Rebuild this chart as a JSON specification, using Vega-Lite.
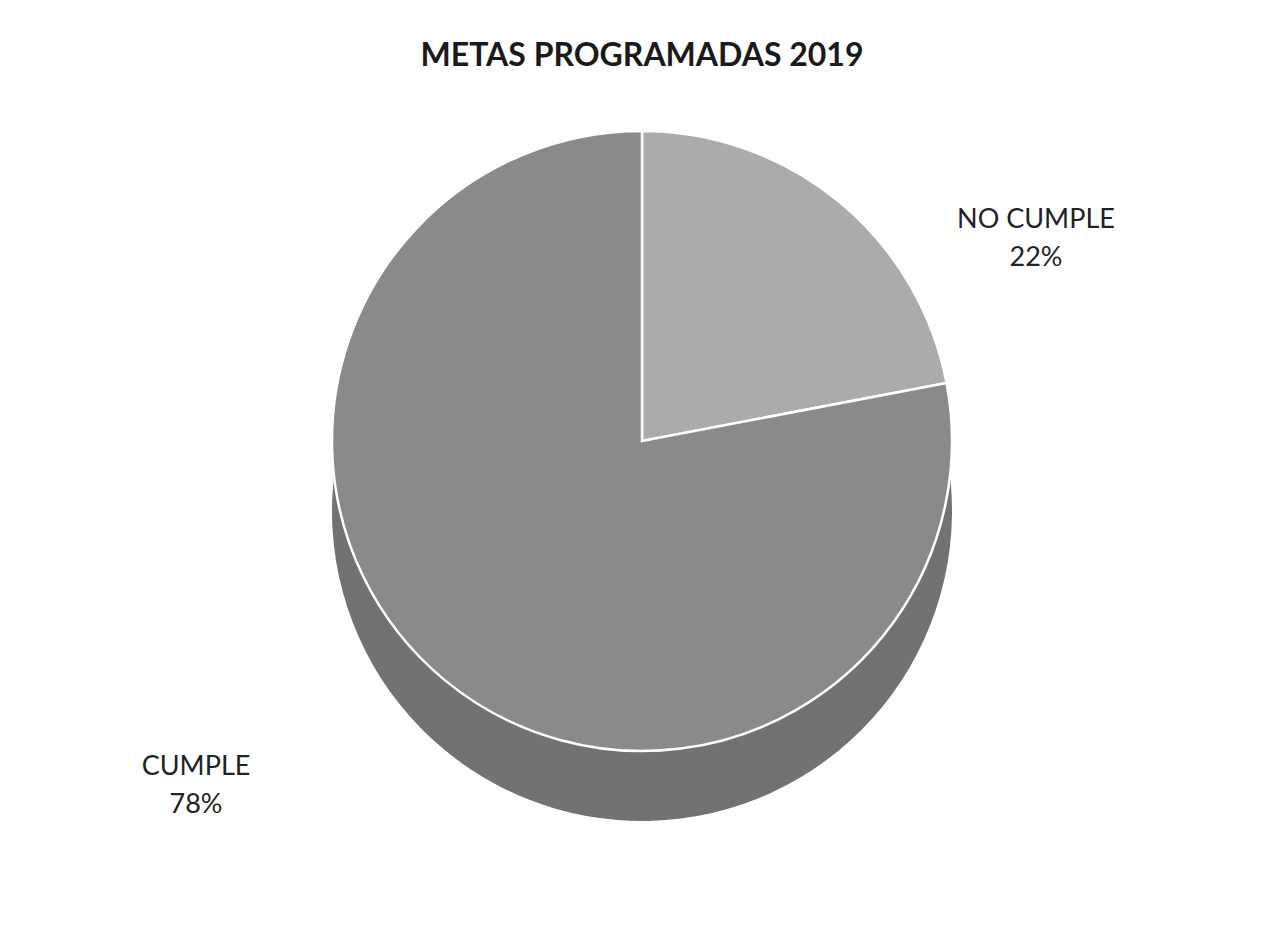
{
  "$schema": "https://vega.github.io/schema/vega-lite/v6.json",
  "autosize": {"type": "fit", "contains": "padding"},
  "width": 1284,
  "height": 927,
  "padding": {"left": 0, "right": 0, "top": 40, "bottom": 138},
  "background": "white",
  "title": {
    "text": "METAS PROGRAMADAS 2019",
    "font": "Lato",
    "fontSize": 32,
    "fontWeight": "bold",
    "color": "#1a1a1a",
    "offset": 20
  },
  "data": {
    "values": [
      {"categoria": "NO CUMPLE", "porcentaje": 22, "etiqueta": "NO CUMPLE\n22%", "orden": 1},
      {"categoria": "CUMPLE", "porcentaje": 78, "etiqueta": "CUMPLE\n78%", "orden": 2}
    ]
  },
  "encoding": {
    "theta": {"field": "porcentaje", "type": "quantitative", "stack": true},
    "order": {"field": "orden", "type": "quantitative"}
  },
  "layer": [
    {
      "mark": {"type": "arc", "radius": 310, "yOffset": 70, "color": "#727272"}
    },
    {
      "mark": {"type": "arc", "radius": 310, "stroke": "white", "strokeWidth": 2.5},
      "encoding": {
        "color": {
          "field": "categoria",
          "type": "nominal",
          "scale": {"domain": ["NO CUMPLE", "CUMPLE"], "range": ["#ababab", "#8a8a8a"]},
          "legend": null
        }
      }
    },
    {
      "mark": {"type": "text", "radius": 400, "dx": 139, "dy": 87, "font": "Lato", "fontSize": 27, "color": "#222222", "lineBreak": "\n", "lineHeight": 38},
      "encoding": {
        "text": {"condition": {"test": "datum.categoria === 'NO CUMPLE'", "field": "etiqueta"}, "value": ""}
      }
    },
    {
      "mark": {"type": "text", "radius": 400, "dx": -191, "dy": 18, "font": "Lato", "fontSize": 27, "color": "#222222", "lineBreak": "\n", "lineHeight": 38},
      "encoding": {
        "text": {"condition": {"test": "datum.categoria === 'CUMPLE'", "field": "etiqueta"}, "value": ""}
      }
    }
  ]
}
